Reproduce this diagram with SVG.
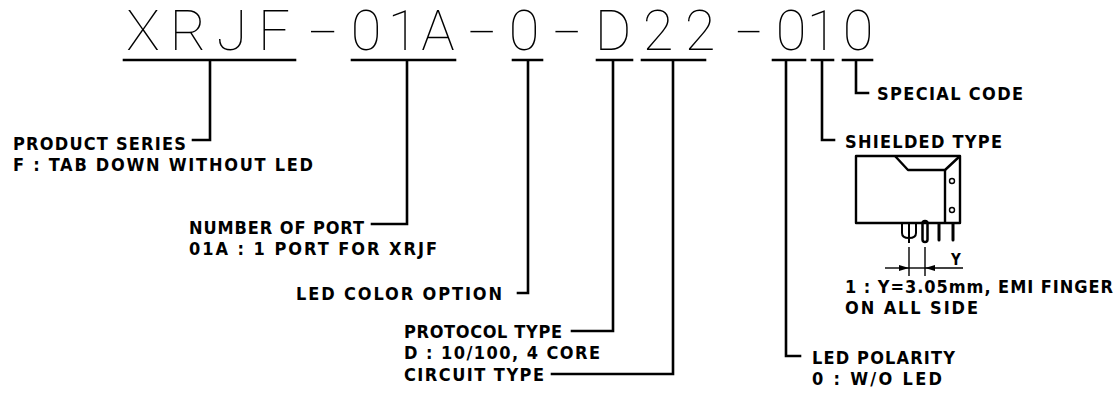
<svg xmlns="http://www.w3.org/2000/svg" width="1115" height="397" viewBox="0 0 1115 397">
<defs>
<style>
.big{font-family:Roboto,"Liberation Sans",sans-serif;font-weight:100;font-size:56px;fill:#000;text-anchor:middle}
.lbl{font-family:"Liberation Sans Narrow","DejaVu Sans Condensed","Liberation Sans",Arial,sans-serif;font-weight:bold;font-size:18px;fill:#000}
.ln{stroke:#000;stroke-width:2.6;fill:none;stroke-linecap:square}
.thin{stroke:#000;stroke-width:1.4;fill:none}
.dw{stroke:#000;stroke-width:2.4;fill:none;stroke-linejoin:round}
</style>
<marker id="ar" viewBox="0 0 10 6" refX="10" refY="3" markerWidth="10" markerHeight="6" markerUnits="userSpaceOnUse" orient="auto">
<path d="M0,0 L10,3 L0,6 Z" fill="#000"/>
</marker>
</defs>
<rect width="1115" height="397" fill="#fff"/>

<g id="part-number">
<text class="big" y="50"><tspan x="143 188 232 274">XRJF</tspan><tspan x="323" textLength="30" lengthAdjust="spacingAndGlyphs">-</tspan><tspan x="366 403 438">01A</tspan><tspan x="482" textLength="29" lengthAdjust="spacingAndGlyphs">-</tspan><tspan x="524">0</tspan><tspan x="567" textLength="29" lengthAdjust="spacingAndGlyphs">-</tspan><tspan x="613 658 700">D22</tspan><tspan x="749" textLength="28" lengthAdjust="spacingAndGlyphs">-</tspan><tspan x="791 822 858">010</tspan></text>
</g>

<g id="connectors">
<path class="ln" d="M124,60H295 M210,60V140H193"/>
<path class="ln" d="M352,60H455 M407,60V224H372"/>
<path class="ln" d="M513,60H542 M528,60V293H518"/>
<path class="ln" d="M597,60H632 M613,60V331H572"/>
<path class="ln" d="M642,60H705 M673,60V374H552"/>
<path class="ln" d="M773,60H805 M786,60V356H800"/>
<path class="ln" d="M812,60H833 M822,60V140H834"/>
<path class="ln" d="M843,60H872 M856,60V93H868"/>
</g>

<g id="product-series">
<text class="lbl" x="13" y="150" textLength="173" lengthAdjust="spacing">PRODUCT SERIES</text>
<text class="lbl" x="13" y="171" textLength="300" lengthAdjust="spacing">F : TAB DOWN WITHOUT LED</text>
</g>
<g id="number-of-port">
<text class="lbl" x="189" y="234" textLength="175" lengthAdjust="spacing">NUMBER OF PORT</text>
<text class="lbl" x="189" y="255" textLength="248" lengthAdjust="spacing">01A : 1 PORT FOR XRJF</text>
</g>
<g id="led-color">
<text class="lbl" x="296" y="300" textLength="206" lengthAdjust="spacing">LED COLOR OPTION</text>
</g>
<g id="protocol-type">
<text class="lbl" x="404" y="338" textLength="158" lengthAdjust="spacing">PROTOCOL TYPE</text>
<text class="lbl" x="404" y="359" textLength="196" lengthAdjust="spacing">D : 10/100, 4 CORE</text>
</g>
<g id="circuit-type">
<text class="lbl" x="404" y="381" textLength="140" lengthAdjust="spacing">CIRCUIT TYPE</text>
</g>
<g id="special-code">
<text class="lbl" x="877" y="100" textLength="146" lengthAdjust="spacing">SPECIAL CODE</text>
</g>
<g id="shielded-type">
<text class="lbl" x="845" y="148" textLength="157" lengthAdjust="spacing">SHIELDED TYPE</text>
<g id="jack-drawing">
<rect class="dw" x="856" y="156" width="104" height="67"/>
<polyline class="dw" points="895,156 908,170 945,170 960,156"/>
<line class="dw" x1="945" y1="170" x2="945" y2="223"/>
<circle class="thin" cx="952" cy="181" r="2.5"/>
<circle class="thin" cx="952" cy="210" r="2.5"/>
<path d="M902,223V233Q902,238 909,238Q916,238 916,233V223 M909,223V243" stroke="#000" stroke-width="2" fill="none"/>
<rect x="922.5" y="221" width="5" height="21" rx="2.5" fill="none" stroke="#000" stroke-width="2.5"/>
<path d="M939,224V240 M953,224V240" stroke="#000" stroke-width="3" stroke-linecap="round"/>
<path class="thin" d="M909,247V276 M925,247V276"/>
<line class="thin" x1="885" y1="268" x2="909" y2="268" marker-end="url(#ar)"/>
<line class="thin" x1="909" y1="268" x2="925" y2="268"/>
<line class="thin" x1="963" y1="268" x2="925" y2="268" marker-end="url(#ar)"/>
<text class="lbl" x="951" y="265" style="font-size:15px">Y</text>
</g>
<text class="lbl" x="845" y="293" textLength="268" lengthAdjust="spacing">1 : Y=3.05mm, EMI FINGER</text>
<text class="lbl" x="845" y="314" textLength="133" lengthAdjust="spacing">ON ALL SIDE</text>
</g>
<g id="led-polarity">
<text class="lbl" x="812" y="364" textLength="143" lengthAdjust="spacing">LED POLARITY</text>
<text class="lbl" x="812" y="385" textLength="130" lengthAdjust="spacing">0 : W/O LED</text>
</g>
</svg>
